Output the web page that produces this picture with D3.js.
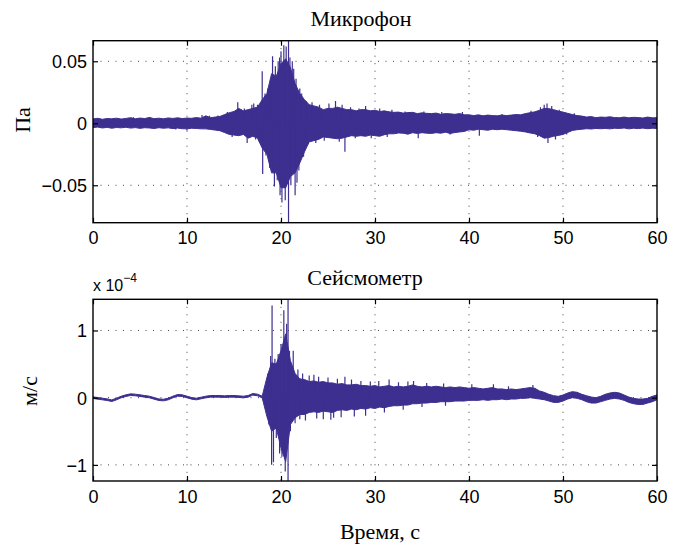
<!DOCTYPE html>
<html>
<head>
<meta charset="utf-8">
<script src="https://cdn.jsdelivr.net/npm/d3@7"></script>
<style>
  body { margin: 0; background: #fff; }
  .tick text { font-family: "Liberation Sans", Arial, sans-serif; font-size: 18px; fill: #000; }
  .serif { font-family: "Liberation Serif", "Times New Roman", serif; fill: #000; }
</style>
</head>
<body>
<div id="chart"></div>
<script>
// ========== Data ==========
const timeTicks = [0, 10, 20, 30, 40, 50, 60];
const micTicks = [-0.05, 0, 0.05];
const seisTicks = [-1, 0, 1]; // x 10^-4

// sample times, 0.5 s apart
const sampleT = [
  0, 0.5, 1, 1.5, 2, 2.5, 3, 3.5, 4, 4.5, 5, 5.5, 6, 6.5, 7, 7.5, 8, 8.5, 9, 9.5,
  10, 10.5, 11, 11.5, 12, 12.5, 13, 13.5, 14, 14.5, 15, 15.5, 16, 16.5, 17, 17.5, 18, 18.5, 19, 19.5,
  20, 20.5, 21, 21.5, 22, 22.5, 23, 23.5, 24, 24.5, 25, 25.5, 26, 26.5, 27, 27.5, 28, 28.5, 29, 29.5,
  30, 30.5, 31, 31.5, 32, 32.5, 33, 33.5, 34, 34.5, 35, 35.5, 36, 36.5, 37, 37.5, 38, 38.5, 39, 39.5,
  40, 40.5, 41, 41.5, 42, 42.5, 43, 43.5, 44, 44.5, 45, 45.5, 46, 46.5, 47, 47.5, 48, 48.5, 49, 49.5,
  50, 50.5, 51, 51.5, 52, 52.5, 53, 53.5, 54, 54.5, 55, 55.5, 56, 56.5, 57, 57.5, 58, 58.5, 59, 59.5, 60
];

// Микрофон envelope, Pa
const micHi = [
  .0035, .0040, .0032, .0038, .0036, .0041, .0034, .0039, .0045, .0036, .0042, .0038, .0047, .0037, .0041, .0036, .0043, .0039, .0044, .0038,
  .0042, .0040, .0046, .0041, .0060, .0045, .0050, .0055, .0070, .0085, .0095, .0120, .0100, .0110, .0120, .0130, .0190, .0240, .0400, .0380,
  .0480, .0520, .0450, .0320, .0240, .0190, .0150, .0140, .0130, .0110, .0120, .0120, .0130, .0120, .0110, .0110, .0100, .0110, .0110, .0100,
  .0105, .0095, .0100, .0092, .0088, .0090, .0082, .0086, .0088, .0078, .0084, .0080, .0078, .0082, .0072, .0078, .0076, .0072, .0078, .0068,
  .0068, .0062, .0068, .0060, .0066, .0062, .0060, .0066, .0062, .0066, .0070, .0068, .0078, .0085, .0092, .0105, .0120, .0118, .0110, .0098,
  .0090, .0080, .0070, .0062, .0058, .0050, .0054, .0045, .0050, .0048, .0052, .0046, .0045, .0050, .0044, .0048, .0046, .0042, .0050, .0044, .0045
];
const micLo = [
  -.0035, -.0031, -.0038, -.0033, -.0040, -.0034, -.0037, -.0032, -.0039, -.0035, -.0041, -.0036, -.0038, -.0042, -.0036, -.0040, -.0037, -.0043, -.0039, -.0044,
  -.0045, -.0040, -.0042, -.0045, -.0045, -.0050, -.0055, -.0060, -.0075, -.0090, -.0095, -.0100, -.0090, -.0120, -.0105, -.0120, -.0200, -.0250, -.0400, -.0400,
  -.0520, -.0520, -.0430, -.0400, -.0320, -.0230, -.0150, -.0140, -.0130, -.0110, -.0115, -.0120, -.0125, -.0120, -.0110, -.0100, -.0105, -.0100, -.0105, -.0095,
  -.0100, -.0105, -.0092, -.0085, -.0085, -.0078, -.0080, -.0088, -.0076, -.0082, -.0076, -.0080, -.0082, -.0076, -.0080, -.0072, -.0082, -.0075, -.0070, -.0066,
  -.0052, -.0056, -.0048, -.0052, -.0056, -.0048, -.0052, -.0048, -.0052, -.0056, -.0060, -.0064, -.0070, -.0078, -.0085, -.0100, -.0120, -.0115, -.0105, -.0098,
  -.0090, -.0074, -.0058, -.0052, -.0048, -.0044, -.0046, -.0042, -.0044, -.0042, -.0045, -.0040, -.0042, -.0038, -.0045, -.0040, -.0043, -.0039, -.0044, -.0040, -.0042
];
// single sharp spikes [t, Pa]
const micSpikes = [
  [4.3, .0048], [6.1, .0049], [8.8, -.0050], [10.0, -.0058], [11.6, .0067], [12.4, .0060], [13.3, .0062],
  [14.3, .0090], [14.8, -.011], [15.1, .0095], [15.4, .017], [15.8, .011], [16.1, .012], [16.4, -.016],
  [16.9, .015], [17.1, .016], [17.3, -.013], [17.5, .015], [17.7, -.015], [18.0, .042], [18.05, -.041],
  [18.3, .024], [18.4, -.026], [18.6, .028], [18.8, -.036], [18.9, .030], [19.1, .054], [19.2, -.040],
  [19.3, -.051], [19.4, .046], [19.6, -.046], [19.7, .050], [19.85, .053], [19.9, -.058], [20.0, .058],
  [20.1, -.064], [20.3, .063], [20.45, -.062], [20.55, .062], [20.8, .0666], [20.8, -.0802], [20.95, .053],
  [21.05, -.050], [21.2, .050], [21.35, .044], [21.5, -.058], [21.6, .036], [21.7, -.048], [21.9, -.038],
  [22.0, .028], [22.2, .024], [22.4, -.027], [22.7, .018], [22.9, -.017], [23.3, .017], [23.7, -.016],
  [24.1, .015], [24.6, -.014], [25.1, .016], [25.8, .018], [26.2, -.015], [26.5, .015], [26.8, -.023],
  [27.4, .013], [27.9, -.012], [28.3, .012], [29.0, .014], [29.6, -.012], [30.5, .012], [31.3, -.011],
  [31.8, .011], [33.2, .0095], [34.6, -.012], [35.2, .0095], [37.1, .009], [38.0, -.009], [39.3, .009],
  [41.1, -.010], [43.5, .0075], [46.6, .010], [47.3, -.011], [47.6, .013], [48.0, .015], [48.3, .016],
  [48.4, -.016], [48.8, .014], [49.2, -.013], [49.6, .011], [50.4, -.009], [51.2, .008]
];

// Сейсмометр envelope, x 10^-4 m/s
const seisHi = [
  .012, .002, -.008, -.018, -.033, -.008, .022, .042, .057, .052, .042, .032, .022, .002, -.018, -.023, -.008, .022, .047, .042,
  .022, .002, -.008, .007, .022, .032, .032, .032, .027, .032, .032, .027, .022, .032, .062, .052, .022, .30, .52, .50,
  .70, .95, .55, .36, .28, .27, .24, .25, .23, .24, .22, .22, .20, .21, .19, .19, .20, .18, .18, .17,
  .18, .16, .17, .18, .16, .17, .16, .17, .19, .17, .16, .17, .16, .17, .16, .15, .16, .15, .16, .15,
  .14, .15, .14, .13, .14, .15, .13, .13, .12, .13, .12, .13, .14, .15, .14, .10, .08, .05, .03, .02,
  .04, .07, .09, .08, .05, .03, .01, .00, .02, .05, .07, .08, .07, .04, .01, -.01, -.02, -.02, -.01, .02, .04
];
const seisLo = [
  -.012, -.022, -.032, -.042, -.057, -.032, -.002, .018, .033, .028, .018, .008, -.002, -.022, -.042, -.047, -.032, -.002, .023, .018,
  -.002, -.022, -.032, -.017, -.002, .008, .008, .008, .003, .008, .008, .003, -.002, .008, .038, .028, -.002, -.28, -.50, -.45,
  -.75, -.95, -.40, -.30, -.25, -.25, -.22, -.21, -.22, -.20, -.21, -.22, -.19, -.18, -.19, -.17, -.18, -.16, -.17, -.15,
  -.16, -.14, -.15, -.13, -.12, -.12, -.11, -.11, -.09, -.09, -.08, -.08, -.07, -.07, -.06, -.06, -.06, -.05, -.05, -.05,
  -.04, -.04, -.04, -.03, -.04, -.03, -.03, -.02, -.03, -.02, -.02, -.01, -.01, .00, -.01, -.02, -.03, -.05, -.07, -.07,
  -.05, -.02, .00, -.01, -.03, -.06, -.08, -.08, -.06, -.04, -.02, -.01, -.02, -.04, -.07, -.09, -.10, -.10, -.08, -.06, -.03
];
const seisSpikes = [
  [18.6, .36], [18.7, -.40], [18.9, .62], [19.0, -1.00], [19.05, 1.37], [19.2, -.96], [19.35, .58],
  [19.5, -.60], [19.7, .65], [19.85, -.83], [20.0, .80], [20.1, -.88], [20.3, 1.30], [20.45, -1.10],
  [20.6, 1.10], [20.75, 1.464], [20.75, -1.24], [20.9, .70], [21.0, -.50], [21.3, .70], [21.5, -.38],
  [21.8, .42], [22.0, -.32], [22.3, .36], [22.6, -.34], [23.0, .33], [23.5, .34], [23.8, -.31],
  [24.0, .31], [24.5, -.32], [25.0, .30], [25.3, -.33], [25.6, -.30], [26.0, .28], [26.4, -.29],
  [26.8, .31], [27.5, .27], [27.8, -.28], [28.5, .25], [29.0, -.27], [29.5, .24], [30.4, .25],
  [31.0, -.22], [31.5, .27], [32.5, .23], [33.0, -.18], [33.5, .24], [34.1, .25], [35.0, -.14],
  [35.5, .22], [37.3, .21], [37.5, -.12], [40.3, .20], [42.6, .20], [44.2, .17], [46.8, .19]
];

// ========== Layout ==========
const width = 674;
const height = 545;
const lineColor = "#3d2f8f";

const svg = d3.select("#chart").append("svg")
  .attr("width", width)
  .attr("height", height);

function drawPanel(opts) {
  const { top, bottom, domain, ticks, fmt, hi, lo, spikes, id } = opts;
  const left = 93, right = 657;

  const x = d3.scaleLinear().domain([0, 60]).range([left, right]);
  const y = d3.scaleLinear().domain(domain).range([bottom, top]);

  svg.append("clipPath").attr("id", id)
    .append("rect")
    .attr("x", left).attr("y", top)
    .attr("width", right - left).attr("height", bottom - top);

  // grid
  const grid = svg.append("g")
    .attr("stroke", "#444")
    .attr("stroke-width", 1)
    .attr("stroke-dasharray", "1,6.5");
  grid.selectAll(".gx")
    .data(timeTicks.filter((d) => d > 0 && d < 60))
    .enter().append("line")
    .attr("x1", (d) => x(d)).attr("x2", (d) => x(d))
    .attr("y1", top).attr("y2", bottom);
  grid.selectAll(".gy")
    .data(ticks)
    .enter().append("line")
    .attr("x1", left).attr("x2", right)
    .attr("y1", (d) => y(d)).attr("y2", (d) => y(d));

  // signal
  const plot = svg.append("g").attr("clip-path", `url(#${id})`);
  const area = d3.area()
    .x((d, i) => x(sampleT[i]))
    .y0((d, i) => y(lo[i]))
    .y1((d, i) => y(hi[i]));
  plot.append("path")
    .datum(hi)
    .attr("fill", lineColor)
    .attr("stroke", lineColor)
    .attr("stroke-width", 1)
    .attr("stroke-linejoin", "miter")
    .attr("d", area);
  plot.selectAll(".spike")
    .data(spikes)
    .enter().append("line")
    .attr("x1", (d) => x(d[0])).attr("x2", (d) => x(d[0]))
    .attr("y1", y(0)).attr("y2", (d) => y(d[1]))
    .attr("stroke", lineColor)
    .attr("stroke-width", 1.2);

  // axes with inward ticks
  const axB = svg.append("g").attr("transform", `translate(0,${bottom})`)
    .call(d3.axisBottom(x).tickValues(timeTicks).tickSize(-5).tickPadding(9).tickFormat(d3.format("d")));
  const axT = svg.append("g").attr("transform", `translate(0,${top})`)
    .call(d3.axisTop(x).tickValues(timeTicks).tickSize(-5).tickFormat(""));
  const axL = svg.append("g").attr("transform", `translate(${left},0)`)
    .call(d3.axisLeft(y).tickValues(ticks).tickSize(-5).tickPadding(6).tickFormat(fmt));
  const axR = svg.append("g").attr("transform", `translate(${right},0)`)
    .call(d3.axisRight(y).tickValues(ticks).tickSize(-5).tickFormat(""));
  [axB, axT, axL, axR].forEach((g) => {
    g.select(".domain").remove();
    g.selectAll(".tick line").attr("stroke", "#000").attr("stroke-width", 1.2);
  });
  axL.selectAll(".tick text").attr("dy", "0.36em");

  // box
  svg.append("rect")
    .attr("x", left).attr("y", top)
    .attr("width", right - left).attr("height", bottom - top)
    .attr("fill", "none")
    .attr("stroke", "#000")
    .attr("stroke-width", 1.4);
}

drawPanel({
  id: "clipMic", top: 40.7, bottom: 222.7, domain: [-0.0802, 0.0666],
  ticks: micTicks, fmt: (d) => (d === 0 ? "0" : d3.format(".2f")(d)),
  hi: micHi, lo: micLo, spikes: micSpikes
});

drawPanel({
  id: "clipSeis", top: 299.3, bottom: 481, domain: [-1.24, 1.464],
  ticks: seisTicks, fmt: d3.format("d"),
  hi: seisHi, lo: seisLo, spikes: seisSpikes
});

// ========== Texts ==========
svg.append("text").attr("class", "serif")
  .attr("x", 361).attr("y", 26)
  .attr("text-anchor", "middle").attr("font-size", 22)
  .text("Микрофон");

svg.append("text").attr("class", "serif")
  .attr("x", 365).attr("y", 285)
  .attr("text-anchor", "middle").attr("font-size", 22)
  .text("Сейсмометр");

svg.append("text").attr("class", "serif")
  .attr("x", 380).attr("y", 539)
  .attr("text-anchor", "middle").attr("font-size", 22)
  .text("Время, с");

svg.append("text").attr("class", "serif")
  .attr("transform", "translate(30,120) rotate(-90)")
  .attr("text-anchor", "middle").attr("font-size", 22)
  .text("Па");

svg.append("text").attr("class", "serif")
  .attr("transform", "translate(37,391) rotate(-90)")
  .attr("text-anchor", "middle").attr("font-size", 22)
  .text("м/с");

// exponent label
const expo = svg.append("text")
  .attr("x", 93).attr("y", 291)
  .attr("font-family", "Liberation Sans, Arial, sans-serif")
  .attr("font-size", 16)
  .attr("fill", "#000");
expo.append("tspan").text("x 10");
expo.append("tspan").attr("font-size", 12).attr("dy", -9).text("\u22124");
</script>
</body>
</html>
